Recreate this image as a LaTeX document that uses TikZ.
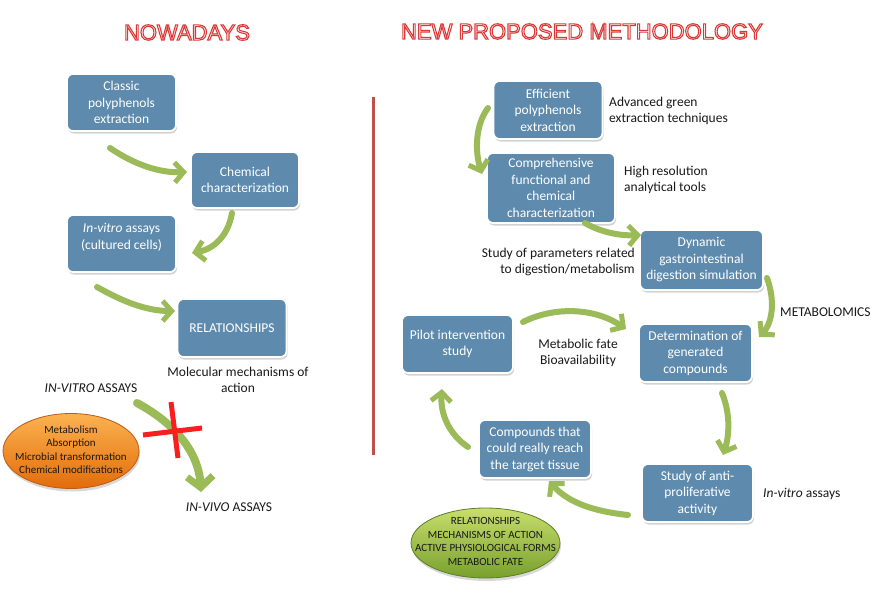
\documentclass[tikz,border=0pt]{standalone}
\usepackage{fontspec}
\setmainfont{Carlito}
\newfontfamily\titlefont{Liberation Sans}
\usetikzlibrary{arrows.meta,shapes.geometric,shadows}
\definecolor{boxblue}{RGB}{94,139,173}
\definecolor{arrowgreen}{RGB}{155,187,89}
\definecolor{divred}{RGB}{192,80,77}
\definecolor{xred}{RGB}{250,30,30}
\definecolor{orangetop}{RGB}{252,178,80}
\definecolor{orangebot}{RGB}{226,108,10}
\definecolor{orangeedge}{RGB}{190,90,20}
\definecolor{greentop}{RGB}{200,222,110}
\definecolor{greenbot}{RGB}{120,160,45}
\definecolor{greenedge}{RGB}{95,125,40}
\newcommand{\outlinedtitle}[1]{{\color{white}\special{pdf:literal direct 2 Tr 1.1 w 0.86 0.22 0.22 RG}#1\special{pdf:literal direct 0 Tr}}}
\begin{document}
\begin{tikzpicture}[x=1pt,y=-1pt,
  procbox/.style={rectangle, rounded corners=6pt, fill=boxblue, draw=white,
    line width=1.8pt, text=white, align=center,
    font=\fontsize{13.5}{16.5}\selectfont, inner sep=2pt,
    drop shadow={shadow xshift=1pt,shadow yshift=-2.5pt,opacity=0.35}},
  boxtext/.style={text=white, align=center, font=\fontsize{13.5}{16.5}\selectfont, inner sep=0pt},
  garrow/.style={draw=arrowgreen, line width=6pt, line cap=round,
    -{Straight Barb[length=9pt,width=20pt,line width=5pt]}},
  note/.style={font=\fontsize{13.5}{16.5}\selectfont, text=black!90, inner sep=0pt},
  smalltext/.style={font=\fontsize{11}{13.5}\selectfont, text=black!90, align=center},
  titletext/.style={font=\titlefont\fontsize{22}{26}\selectfont, inner sep=0pt},
  ellnode/.style={ellipse, inner sep=0pt, line width=0.8pt,
    drop shadow={shadow xshift=1pt,shadow yshift=-3pt,opacity=0.3}},
]
\useasboundingbox[fill=white] (0,0) rectangle (878,602);

% titles
\node[titletext] (t1) at (187,32.5) {\outlinedtitle{NOWADAYS}};
\node[titletext] (t2) at (582,31.5) {\outlinedtitle{NEW PROPOSED METHODOLOGY}};

% divider
\coordinate (d1) at (373,97);
\coordinate (d2) at (373,455);
\draw[divred, line width=3pt] (d1) -- (d2);

% left column boxes
\node[procbox, minimum width=109pt, minimum height=57pt] (classic) at (121.5,102.5) {Classic\\polyphenols\\extraction};
\node[procbox, minimum width=108pt, minimum height=56pt] (chem) at (245,180) {Chemical\\characterization};
\node[procbox, minimum width=109pt, minimum height=57pt] (invitro) at (121.5,243.5) {};
\node[boxtext] (invitrotxt) at (121.5,237.5) {\textit{In-vitro} assays\\(cultured cells)};
\node[procbox, minimum width=109pt, minimum height=58pt] (rel) at (232,328) {RELATIONSHIPS};

\node[note, align=center] (molec) at (238,380) {Molecular mechanisms of\\action};
\node[note] (ivt) at (91,388) {\textit{IN-VITRO} ASSAYS};
\node[note] (ivv) at (229,507) {\textit{IN-VIVO} ASSAYS};

\node[ellnode, minimum width=136pt, minimum height=75pt, top color=orangetop, bottom color=orangebot, draw=orangeedge] (orange) at (71,451) {};
\node[smalltext] (orangetxt) at (71,449.5) {Metabolism\\Absorption\\Microbial transformation\\Chemical modifications};

% left arrows
\coordinate (a1s) at (110,148);
\coordinate (a1e) at (187,172);
\draw[garrow] (a1s) .. controls (135,165) and (160,173) .. (a1e);
\coordinate (a2s) at (232,213);
\coordinate (a2e) at (192,253);
\draw[garrow] (a2s) .. controls (228,236) and (214,249) .. (a2e);
\coordinate (a3s) at (97,287);
\coordinate (a3e) at (175,311);
\draw[garrow] (a3s) .. controls (120,300) and (145,311) .. (a3e);
\coordinate (a4s) at (137,403);
\coordinate (a4e) at (201,492);
\draw[draw=arrowgreen, line width=8pt, line cap=round,
  -{Straight Barb[length=11pt,width=26pt,line width=7pt]}]
  (a4s) .. controls (165,418) and (198,445) .. (a4e);
% red cross
\coordinate (x1a) at (171,402);
\coordinate (x1b) at (178,458);
\coordinate (x2a) at (143,435);
\coordinate (x2b) at (202,428);
\draw[xred, line width=5pt] (x1a) -- (x1b);
\draw[xred, line width=5pt] (x2a) -- (x2b);

% right column boxes
\node[procbox, minimum width=109pt, minimum height=58pt] (eff) at (548,110) {Efficient\\polyphenols\\extraction};
\node[procbox, minimum width=128pt, minimum height=70pt] (comp) at (551,188) {Comprehensive\\functional and\\chemical\\characterization};
\node[procbox, minimum width=123pt, minimum height=60pt] (dyn) at (701.5,260) {Dynamic\\gastrointestinal\\digestion simulation};
\node[procbox, minimum width=111pt, minimum height=58pt] (pilot) at (457.5,344) {Pilot intervention\\study};
\node[procbox, minimum width=113pt, minimum height=58pt] (det) at (695.5,353) {Determination of\\generated\\compounds};
\node[procbox, minimum width=112pt, minimum height=58pt] (cmpd) at (535,449) {Compounds that\\could really reach\\the target tissue};
\node[procbox, minimum width=111pt, minimum height=58pt] (anti) at (697.5,493) {Study of anti-\\proliferative\\activity};

\node[note, anchor=west, align=left] (adv) at (609,111) {Advanced green\\extraction techniques};
\node[note, anchor=west, align=left] (hres) at (624,180) {High resolution\\analytical tools};
\node[note, anchor=east, align=right] (param) at (635,262) {Study of parameters related\\to digestion/metabolism};
\node[note, anchor=west] (metab) at (780,312) {METABOLOMICS};
\node[note, align=center] (fate) at (578,353) {Metabolic fate\\Bioavailability};
\node[note, anchor=west] (ivr) at (763,494) {\textit{In-vitro} assays};

\node[ellnode, minimum width=149pt, minimum height=70pt, top color=greentop, bottom color=greenbot, draw=greenedge] (green) at (485.5,543) {};
\node[smalltext] (greentxt) at (485.5,541.5) {RELATIONSHIPS\\MECHANISMS OF ACTION\\ACTIVE PHYSIOLOGICAL FORMS\\METABOLIC FATE};

% right arrows
\coordinate (b1s) at (488,108);
\coordinate (b1e) at (482,174);
\draw[garrow] (b1s) .. controls (475,125) and (475,152) .. (b1e);
\coordinate (b2s) at (585,223);
\coordinate (b2e) at (641,235);
\draw[garrow] (b2s) .. controls (600,232) and (620,236) .. (b2e);
\coordinate (b3s) at (767,278);
\coordinate (b3e) at (759,337);
\draw[garrow] (b3s) .. controls (775,300) and (773,322) .. (b3e);
\coordinate (b4s) at (722,393);
\coordinate (b4e) at (723,455);
\draw[garrow] (b4s) .. controls (731,415) and (729,437) .. (b4e);
\coordinate (b5s) at (628,515);
\coordinate (b5e) at (549,481);
\draw[garrow] (b5s) .. controls (600,512) and (570,505) .. (b5e);
\coordinate (b6s) at (468,447);
\coordinate (b6e) at (442,389);
\draw[garrow] (b6s) .. controls (450,435) and (440,415) .. (b6e);
\coordinate (b7s) at (523,322);
\coordinate (b7e) at (626,329);
\draw[garrow] (b7s) .. controls (555,306) and (595,308) .. (b7e);
\end{tikzpicture}
\end{document}
